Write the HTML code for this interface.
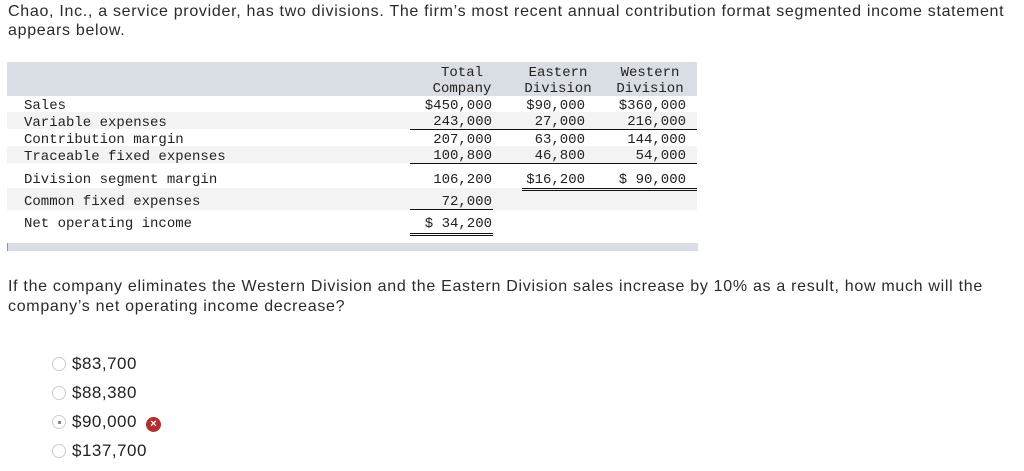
<!DOCTYPE html>
<html><head><meta charset="utf-8"><style>
body{margin:0;width:1024px;height:471px;background:#fff;position:relative;overflow:hidden;font-family:"Liberation Sans",sans-serif;color:#2b2b2b}
.t{position:absolute;white-space:nowrap;font-size:16px;left:8px;letter-spacing:0.7px}
.m{position:absolute;font-family:"Liberation Mono",monospace;font-size:14px;color:#222;white-space:nowrap;line-height:16px}
.r{text-align:right}
.c{text-align:center}
.band{position:absolute;left:7px;width:690px}
.ul{position:absolute;height:1px;background:#111}
.opt{position:absolute;left:72px;font-size:17px;color:#222;letter-spacing:0.5px}
.rad{position:absolute;left:52px;width:14px;height:14px;border:1px solid #ccc;border-radius:50%;box-sizing:border-box}
</style></head><body>
<div class="t" style="top:3px">Chao, Inc., a service provider, has two divisions. The firm’s most recent annual contribution format segmented income statement</div>
<div class="t" style="top:22px">appears below.</div>

<div class="band" style="top:62px;height:34px;background:#d9dde4"></div>
<div class="band" style="top:112px;height:17px;background:#f3f3f3"></div>
<div class="band" style="top:146px;height:17px;background:#f3f3f3"></div>
<div class="band" style="top:188px;height:22px;background:#f3f3f3"></div>
<div class="band" style="top:243px;height:8px;background:#d9dde4;border-left:1px solid #999"></div>

<div class="m c" style="top:65px;left:412px;width:100px">Total<br>Company</div>
<div class="m c" style="top:65px;left:508px;width:100px">Eastern<br>Division</div>
<div class="m c" style="top:65px;left:600px;width:100px">Western<br>Division</div>

<div class="m" style="top:98px;left:24px">Sales</div>
<div class="m" style="top:115px;left:24px">Variable expenses</div>
<div class="m" style="top:132px;left:24px">Contribution margin</div>
<div class="m" style="top:149px;left:24px">Traceable fixed expenses</div>
<div class="m" style="top:172px;left:24px">Division segment margin</div>
<div class="m" style="top:194px;left:24px">Common fixed expenses</div>
<div class="m" style="top:216px;left:24px">Net operating income</div>

<div class="m r" style="top:98px;left:380px;width:112px">$450,000<br>243,000</div>
<div class="m r" style="top:132px;left:380px;width:112px">207,000<br>100,800</div>
<div class="m r" style="top:172px;left:380px;width:112px">106,200</div>
<div class="m r" style="top:194px;left:380px;width:112px">72,000</div>
<div class="m r" style="top:216px;left:380px;width:112px">$ 34,200</div>

<div class="m r" style="top:98px;left:480px;width:105px">$90,000<br>27,000</div>
<div class="m r" style="top:132px;left:480px;width:105px">63,000<br>46,800</div>
<div class="m r" style="top:172px;left:480px;width:105px">$16,200</div>

<div class="m r" style="top:98px;left:580px;width:106px">$360,000<br>216,000</div>
<div class="m r" style="top:132px;left:580px;width:106px">144,000<br>54,000</div>
<div class="m r" style="top:172px;left:580px;width:106px">$ 90,000</div>

<div class="ul" style="top:129px;left:410px;width:287px"></div>
<div class="ul" style="top:163px;left:410px;width:287px"></div>
<div class="ul" style="top:188px;left:522px;width:175px"></div>
<div class="ul" style="top:190px;left:522px;width:175px"></div>
<div class="ul" style="top:209px;left:410px;width:83px"></div>
<div class="ul" style="top:233px;left:410px;width:83px"></div>
<div class="ul" style="top:235px;left:410px;width:83px"></div>

<div class="t" style="top:278px">If the company eliminates the Western Division and the Eastern Division sales increase by 10% as a result, how much will the</div>
<div class="t" style="top:298px">company’s net operating income decrease?</div>

<div class="rad" style="top:357px"></div><div class="opt" style="top:354px">$83,700</div>
<div class="rad" style="top:386px"></div><div class="opt" style="top:383px">$88,380</div>
<div class="rad" style="top:415px"><div style="position:absolute;left:5px;top:5px;width:3px;height:3px;background:#888"></div></div><div class="opt" style="top:412px">$90,000</div>
<div style="position:absolute;left:146px;top:417px;width:15px;height:15px;border-radius:50%;background:#b03030;color:#fff;font-size:11px;font-weight:bold;text-align:center;line-height:15px">×</div>
<div class="rad" style="top:444px"></div><div class="opt" style="top:441px">$137,700</div>
</body></html>
